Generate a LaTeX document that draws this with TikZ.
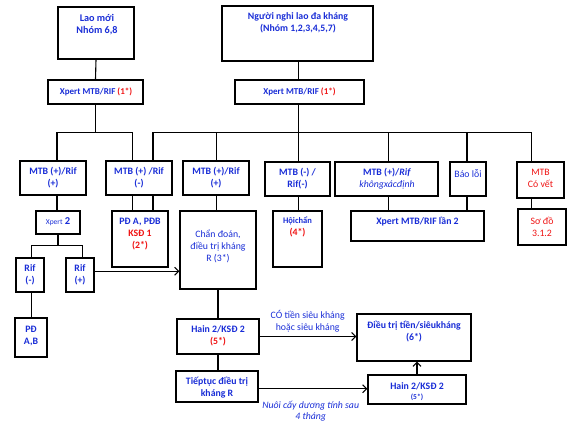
\documentclass[tikz,border=0pt]{standalone}
\usepackage{fontspec}
\setmainfont{Carlito}
\usetikzlibrary{arrows.meta}
\definecolor{tblue}{RGB}{25,45,215}
\definecolor{tred}{RGB}{240,20,20}
\tikzset{
  box/.style={draw=black, line width=1.2pt, inner sep=0pt, fill=white},
  txt/.style={text=tblue, align=center, inner sep=0pt, font=\fontsize{9.8}{12}\selectfont\bfseries},
  rtxt/.style={text=tblue, align=center, inner sep=0pt, font=\fontsize{9.8}{12}\selectfont},
  wire/.style={draw=black, line width=1.1pt},
  arr/.style={draw=black, line width=1.1pt, -{Straight Barb[length=4pt,width=8pt,line width=1.1pt]}}
}
\newcommand{\bx}[5]{\node[box, minimum width=#4-#2, minimum height=#5-#3] (#1) at ({(#2+#4)/2},{(#3+#5)/2}) {};}
\begin{document}
\begin{tikzpicture}[x=1pt,y=-1pt]
\useasboundingbox (0,0) rectangle (575,428);
% boxes
\bx{lao}{58}{7}{134}{59}
\bx{nghi}{222}{6}{373}{61}
\bx{xpa}{48}{80}{143}{104}
\bx{xpb}{235}{80}{364}{104}
\bx{A}{20}{161}{86}{195}
\bx{B}{106}{161}{172}{195}
\bx{C}{183}{161}{249}{195}
\bx{D}{265}{162}{330}{196}
\bx{E}{335}{162}{438}{196}
\bx{F}{450}{162}{486}{196}
\bx{G}{517}{162}{564}{198}
\bx{H}{36}{211}{80}{234}
\bx{I}{112}{211}{168}{267}
\bx{J}{180}{211}{256}{289}
\bx{K}{273}{211}{322}{267}
\bx{L}{351}{211}{484}{241}
\bx{M}{518}{209}{566}{245}
\bx{N}{16}{258}{44}{292}
\bx{O}{66}{258}{94}{292}
\bx{P}{15}{318}{47}{357}
\bx{Q}{177}{319}{259}{354}
\bx{R}{176}{371}{258}{402}
\bx{S}{357}{314}{471}{361}
\bx{T}{368}{375}{466}{404}
% texts
\node[txt, font=\fontsize{10.2}{12.5}\selectfont\bfseries] (tlao) at (97,24.5) {Lao mới\\Nhóm 6,8};
\node[txt] (tnghi) at (298,23) {Người nghi lao đa kháng\\(Nhóm 1,2,3,4,5,7)};
\node[txt, font=\fontsize{9}{12}\selectfont\bfseries] (txpa) at (96,92) {Xpert MTB/RIF {\color{tred}(1*)}};
\node[txt, font=\fontsize{9}{12}\selectfont\bfseries] (txpb) at (299.5,92) {Xpert MTB/RIF {\color{tred}(1*)}};
\node[txt] (tA) at (53,177.5) {MTB (+)/Rif\\(+)};
\node[txt] (tB) at (139,177.5) {MTB (+) /Rif\\(-)};
\node[txt] (tC) at (216,177.5) {MTB (+)/Rif\\(+)};
\node[txt] (tD) at (297.5,179) {MTB (-) /\\Rif(-)};
\node[txt] (tE) at (387,179) {MTB (+)/\textit{Rif}\\\mdseries\itshape khôngxácđịnh};
\node[rtxt] (tF) at (468,173.3) {Báo lỗi};
\node[rtxt, text=tred] (tG) at (540.5,178.3) {MTB\\Có vết};
\node[txt] (tH) at (58,222) {{\fontsize{7.5}{8}\selectfont\mdseries Xpert} {\fontsize{10.5}{12}\selectfont 2}};
\node[txt] (tI) at (140,234.3) {PĐ A, PĐB\\{\color{tred}KSĐ 1}\\{\color{tred}(2*)}};
\node[rtxt] (tJ) at (218,246.7) {Chẩn đoán,\\điều trị kháng\\R (3*)};
\node[txt] (tK) at (297.5,226.7) {{\fontsize{8.5}{12}\selectfont Hộichẩn}\\{\color{tred}(4*)}};
\node[txt] (tL) at (417.5,221.5) {Xpert MTB/RIF lần 2};
\node[rtxt, text=tred] (tM) at (542,227) {Sơ đồ\\3.1.2};
\node[txt] (tN) at (30,275) {Rif\\(-)};
\node[txt] (tO) at (80,275) {Rif\\(+)};
\node[txt] (tP) at (31,335.5) {PĐ\\A,B};
\node[txt] (tQ) at (218,335.5) {Hain 2/KSĐ 2\\{\color{tred}(5*)}};
\node[txt] (tR) at (217,387.5) {Tiếptục điều trị\\kháng R};
\node[txt] (tS) at (414,332) {Điều trị tiền/siêukháng\\(6*)};
\node[txt] (tT1) at (417,386.7) {Hain 2/KSĐ 2};
\node[txt, font=\fontsize{7.5}{8}\selectfont\bfseries] (tT2) at (417,397.5) {(5*)};
\node[rtxt] (lab1) at (307.7,321.3) {CÓ tiền siêu kháng\\hoặc siêu kháng};
\node[rtxt, font=\fontsize{9.8}{11}\selectfont\itshape] (lab2) at (310.7,411.2) {Nuôi cấy dương tính sau\\4 tháng};
% bus coordinates
\coordinate (l1) at (57,132.3);
\coordinate (l2) at (132.5,132.3);
\coordinate (r1) at (153,132.3);
\coordinate (r2) at (216.7,132.3);
\coordinate (r3) at (298.5,132.3);
\coordinate (r4) at (388.3,132.3);
\coordinate (r5) at (467,132.3);
\coordinate (r6) at (531.7,132.3);
\coordinate (s0) at (58,245.3);
\coordinate (s1) at (31.5,245.3);
\coordinate (s2) at (82.5,245.3);
\coordinate (a1) at (0,271.3);
\coordinate (a2) at (0,388.7);
% connectors
\draw[wire] (lao.south) -- (xpa.north);
\draw[wire] (nghi.south-|r3) -- (xpb.north-|r3);
\draw[wire] (xpa.south) -- (xpa.south|-l1);
\draw[wire] (l1) -- (l2);
\draw[wire] (l1) -- (l1|-A.north);
\draw[wire] (l2) -- (l2|-B.north);
\draw[wire] (xpb.south-|r3) -- (r3);
\draw[wire] (r1) -- (r6);
\draw[wire] (r1) -- (r1|-B.north);
\draw[wire] (r2) -- (r2|-C.north);
\draw[wire] (r3) -- (r3|-D.north);
\draw[wire] (r4) -- (r4|-E.north);
\draw[wire] (r5) -- (r5|-F.north);
\draw[wire] (r6) -- (r6|-G.north);
\draw[wire] (A.south-|l1) -- (H.north-|l1);
\draw[wire] (B.south-|l2) -- (I.north-|l2);
\draw[wire] (B.south-|r1) -- (I.north-|r1);
\draw[wire] (C.south-|r2) -- (J.north-|r2);
\draw[wire] (D.south-|r3) -- (K.north-|r3);
\draw[wire] (E.south-|r4) -- (L.north-|r4);
\draw[wire] (F.south-|r5) -- (L.north-|r5);
\draw[wire] (G.south-|r6) -- (M.north-|r6);
\draw[wire] (H.south) -- (s0);
\draw[wire] (s1) -- (s2);
\draw[wire] (s1) -- (s1|-N.north);
\draw[wire] (s2) -- (s2|-O.north);
\draw[wire] (N.south-|s1) -- (P.north-|s1);
\draw[arr] (O.east|-a1) -- (J.west|-a1);
\draw[wire] (J.south-|Q.north) -- (Q.north);
\draw[wire] (Q.south) -- (Q.south|-R.north);
\draw[arr] (Q.east) -- (S.west|-Q.east);
\draw[arr] (R.east|-a2) -- (T.west|-a2);
\draw[arr] (T.north) -- (T.north|-S.south);
\end{tikzpicture}
\end{document}
